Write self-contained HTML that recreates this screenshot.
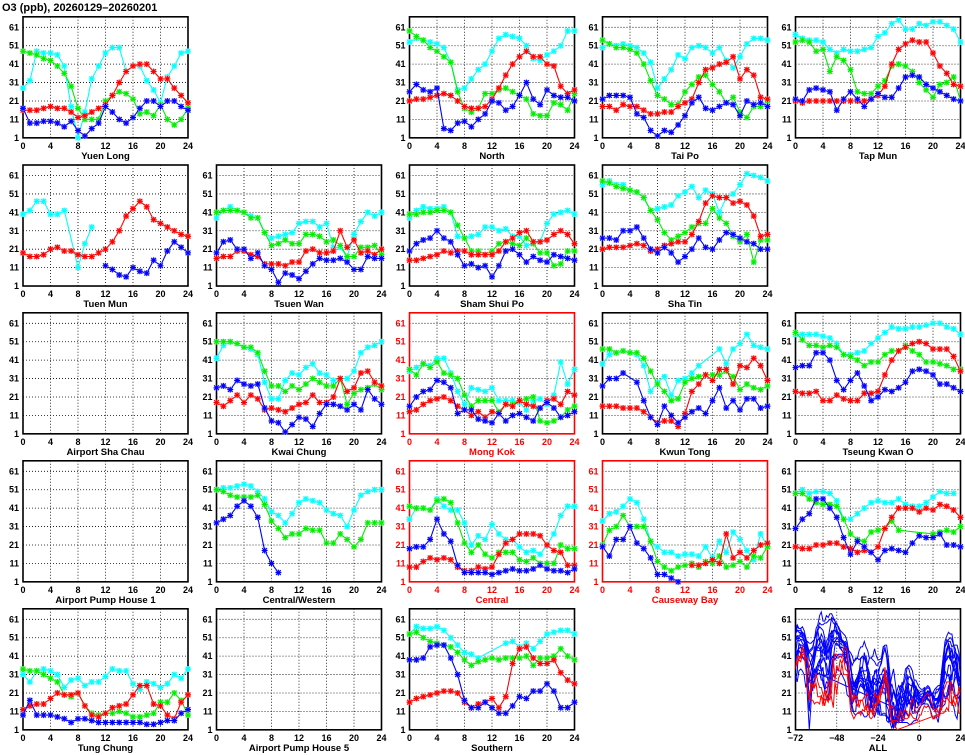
<!DOCTYPE html>
<html><head><meta charset="utf-8"><style>
html,body{margin:0;padding:0;background:#fff;}
svg{display:block;font-family:"Liberation Sans",sans-serif;}
</style></head><body>
<svg id="c" width="965" height="755" viewBox="0 0 965 755">
<text x="2" y="11" font-size="11" font-weight="bold" fill="#000">O3 (ppb), 20260129&#8211;20260201</text>
</svg>
<script>
const hourTicks = [0,4,8,12,16,20,24];
const yTicks = [1,11,21,31,41,51,61];
const allTicks = [-72,-48,-24,0,24];
const N = null;
const ylC=[28,32,48,47,47,46,40,18,1,15,33,40,47,50,50,37,40,40,32,27,20,34,40,47,48];
const ylG=[48,47,46,44,43,40,36,29,17,11,11,11,21,24,26,25,22,14,15,13,19,11,8,11,17];
const ylR=[16,16,16,17,18,17,17,15,12,13,15,17,19,24,31,37,40,41,41,37,33,33,28,24,20];
const ylB=[17,9,9,10,10,9,7,10,5,2,6,9,18,15,11,9,12,17,21,21,18,21,21,18,16];
const noC=[53,55,54,53,52,50,42,27,28,33,38,41,48,55,57,56,55,51,44,43,46,48,51,59,59];
const noG=[59,56,54,50,48,45,42,26,17,15,17,25,25,27,28,26,24,22,14,13,13,20,19,16,25];
const noR=[21,22,22,23,24,25,24,21,18,17,17,18,22,28,35,41,45,48,45,45,41,40,29,25,27];
const noB=[26,30,27,26,28,6,5,9,10,7,11,14,21,20,16,18,24,31,22,19,27,24,23,23,21];
const tpC=[50,52,51,52,51,50,47,42,28,33,38,46,44,50,51,50,47,50,43,39,45,52,55,55,54];
const tpG=[54,52,50,50,49,47,41,32,24,22,19,19,26,30,34,35,30,26,20,23,15,12,18,18,21];
const tpR=[18,18,16,19,18,18,16,14,14,15,15,18,20,22,31,38,39,41,42,45,33,38,35,23,22];
const tpB=[22,24,24,24,23,14,12,5,2,5,4,8,13,20,23,17,16,18,20,19,13,21,19,20,18];
const tmC=[57,55,54,54,53,49,47,49,48,48,49,50,56,58,63,65,60,60,63,62,64,64,62,60,53];
const tmG=[53,54,53,48,49,37,45,43,38,26,25,25,29,32,40,41,40,37,31,27,23,30,31,34,21];
const tmR=[21,20,21,21,21,21,21,21,21,21,21,22,24,29,41,49,52,54,53,53,47,40,36,30,29];
const tmB=[22,21,27,28,27,26,16,22,26,22,18,22,25,23,23,28,34,35,34,30,28,26,24,22,21];
const tuC=[40,42,47,47,40,40,42,N,11,24,33,N,N,N,N,N,N,N,N,N,N,N,N,N,N];
const tuG=[N,N,N,N,N,N,N,N,N,N,N,N,N,N,N,N,N,N,N,N,N,N,N,N,N];
const tuR=[19,17,17,18,21,22,20,20,18,17,17,19,21,25,31,39,43,47,44,37,35,33,31,29,28];
const tuB=[N,N,N,N,N,N,N,N,N,N,N,N,12,10,7,6,11,9,8,15,12,20,25,22,19];
const twC=[38,42,44,42,41,39,38,30,27,28,29,30,35,36,36,33,35,22,22,17,29,36,41,39,41];
const twG=[41,42,42,42,41,38,38,30,23,24,26,24,24,29,29,28,25,26,23,17,17,22,22,23,18];
const twR=[16,17,17,20,20,18,17,13,13,13,12,14,14,20,21,19,19,20,31,22,26,19,20,18,21];
const twB=[19,25,26,21,21,16,19,12,10,3,8,7,5,9,13,16,15,15,16,14,10,10,17,16,16];
const ssC=[38,42,44,43,43,44,41,28,27,28,29,33,33,31,32,28,28,23,24,25,35,40,41,42,40];
const ssG=[40,40,41,41,42,42,41,34,27,20,20,18,20,24,25,24,23,27,24,19,19,12,13,20,20];
const ssR=[15,15,16,17,18,20,19,20,20,18,18,18,18,20,25,27,30,31,25,25,26,29,31,29,24];
const ssB=[20,24,26,27,31,27,25,18,12,13,11,12,6,12,20,21,18,14,17,15,14,18,17,16,15];
const stC=[56,58,56,56,53,52,49,42,43,44,45,50,52,55,49,53,51,41,49,51,56,62,61,60,58];
const stG=[58,57,55,54,53,52,49,42,37,30,26,28,30,33,35,35,43,38,35,28,25,29,14,26,26];
const stR=[21,22,22,22,23,24,23,20,21,23,24,25,25,29,36,46,50,49,49,46,47,45,39,28,29];
const stB=[27,27,26,31,31,33,27,21,19,22,19,14,17,21,27,22,21,26,30,29,27,25,24,21,21];
const kcC=[42,49,51,50,48,47,44,29,20,20,30,34,33,37,39,34,33,30,31,31,35,45,48,49,51];
const kcG=[51,51,51,50,48,48,45,35,27,27,24,27,25,28,31,29,27,27,31,17,23,25,26,28,25];
const kcR=[18,16,19,22,18,22,20,14,15,14,13,15,17,18,22,18,18,21,31,24,26,34,35,29,27];
const kcB=[26,27,25,30,28,27,28,15,8,7,2,6,10,9,5,12,17,17,16,14,17,14,25,20,17];
const mkC=[35,37,39,38,42,42,34,24,17,26,25,24,26,19,19,19,18,14,19,20,17,22,40,28,36];
const mkG=[36,33,39,37,40,34,33,31,22,16,19,19,19,13,17,17,19,20,21,8,7,8,10,14,16];
const mkR=[13,14,17,19,20,21,19,16,14,11,13,10,13,12,17,16,19,17,16,15,19,20,17,24,22];
const mkB=[16,21,24,25,30,29,26,12,14,14,9,8,7,12,8,11,12,10,8,15,18,15,10,11,13];
const ktC=[39,44,45,46,45,44,38,24,29,32,22,30,31,34,38,N,N,47,39,47,50,55,49,48,47];
const ktG=[47,47,45,46,45,45,42,35,28,24,19,20,29,31,32,33,33,33,35,32,25,28,26,25,27];
const ktR=[16,16,16,15,15,15,13,10,7,8,8,5,12,24,28,33,30,36,36,28,38,37,42,38,30];
const ktB=[27,31,31,34,N,29,19,10,6,16,11,7,10,13,15,12,19,26,15,19,14,20,20,15,16];
const tkC=[55,55,55,55,54,53,50,44,44,45,46,50,53,56,59,58,58,59,59,60,61,61,59,58,55];
const tkG=[56,52,49,49,48,49,48,44,43,41,38,40,40,44,46,46,49,46,44,40,40,39,38,36,36];
const tkR=[24,23,23,24,19,19,22,20,19,19,23,23,24,33,41,46,48,50,51,50,47,47,47,43,35];
const tkB=[37,38,38,45,45,41,30,25,30,34,27,19,21,25,24,26,29,35,36,35,33,28,28,26,24];
const cwC=[51,52,52,53,54,53,50,46,39,37,33,38,44,46,45,44,40,38,37,31,40,48,50,51,51];
const cwG=[51,50,48,47,47,47,48,43,34,30,25,27,27,30,29,29,22,22,27,24,20,24,33,33,33];
const cwR=[N,N,N,N,N,N,N,N,N,N,N,N,N,N,N,N,N,N,N,N,N,N,N,N,N];
const cwB=[33,35,37,42,45,42,36,18,11,6,N,N,N,N,N,N,N,N,N,N,N,N,N,N,N];
const ceC=[35,41,41,40,46,42,40,40,33,21,26,24,32,27,24,24,20,17,18,16,21,27,37,42,42];
const ceG=[42,41,41,40,45,46,44,33,22,17,21,16,14,17,17,17,13,12,14,11,11,11,21,19,19];
const ceR=[9,9,12,14,13,14,13,9,7,7,9,8,9,16,22,24,27,27,27,26,21,18,17,10,10];
const ceB=[19,20,20,24,35,27,23,10,6,6,6,6,5,6,7,8,7,7,8,10,8,7,7,6,8];
const cbC=[34,38,39,42,46,44,35,23,20,17,17,15,16,16,15,20,14,23,17,28,24,18,13,27,20];
const cbG=[21,29,31,37,31,31,31,23,12,9,7,9,10,11,9,12,11,15,9,10,12,9,15,14,20];
const cbR=[N,N,N,N,N,N,N,N,N,N,N,N,N,10,10,11,13,11,27,14,17,14,18,21,22];
const cbB=[20,15,24,24,31,22,19,14,5,5,3,1,N,N,N,N,N,N,N,N,N,N,N,N,N];
const eaC=[49,51,49,50,50,49,45,35,35,38,41,44,45,44,44,46,43,42,42,44,47,50,49,49,N];
const eaG=[49,49,46,44,43,43,42,35,27,24,23,28,29,30,34,29,N,N,N,N,27,28,29,28,31];
const eaR=[20,19,19,21,21,22,22,20,19,17,18,17,20,30,36,41,41,41,39,41,40,43,42,40,36];
const eaB=[30,35,38,46,46,41,36,25,16,23,20,17,13,18,19,18,17,22,26,25,25,27,21,21,20];
const tcC=[31,27,33,34,33,31,24,28,29,25,27,27,30,34,33,33,26,23,27,26,24,26,31,29,34];
const tcG=[34,33,33,31,29,27,20,19,21,14,10,9,10,10,11,10,8,8,9,10,16,16,21,17,9];
const tcR=[12,14,15,15,18,21,20,20,21,14,9,8,10,13,14,15,20,25,25,15,14,9,7,16,20];
const tcB=[9,17,9,9,9,8,7,5,7,7,6,5,5,5,5,5,5,5,4,4,5,6,6,10,12];
const soC=[53,57,56,56,57,55,51,47,43,42,40,N,N,N,48,49,46,48,45,49,53,54,55,55,53];
const soG=[53,54,51,49,48,47,46,43,39,36,38,39,40,39,40,40,40,41,36,40,40,41,45,41,39];
const soR=[16,18,19,20,21,22,22,21,16,13,15,16,18,13,19,37,45,46,40,37,37,39,32,28,26];
const soB=[39,39,40,46,47,47,40,31,17,13,13,16,13,10,10,14,19,18,22,22,26,22,13,13,16];
const hours=[0,1,2,3,4,5,6,7,8,9,10,11,12,13,14,15,16,17,18,19,20,21,22,23,24];

const colLeft=[23,216.5,409.5,602.5,795.5];
const rowTop61=[27.3,175.5,323.3,471.3,619.3];
const PW=165, PXU=1.842;
const colors={c:'#00ffff',g:'#00ee00',r:'#ff0000',b:'#0000ff'};
const halos={c:'#b8ffff',g:'#b8ffb8',r:'#ffb8b8',b:'#b8b8ff'};
const svg=document.getElementById('c');
const NS='http://www.w3.org/2000/svg';
function mk(tag,attrs,parent){const e=document.createElementNS(NS,tag);for(const k in attrs)e.setAttribute(k,attrs[k]);(parent||svg).appendChild(e);return e;}

const panels=[
 {name:'Yuen Long',key:'yuen-long',col:0,row:0,d:{c:ylC,g:ylG,r:ylR,b:ylB}},
 {name:'North',key:'north',col:2,row:0,d:{c:noC,g:noG,r:noR,b:noB}},
 {name:'Tai Po',key:'tai-po',col:3,row:0,d:{c:tpC,g:tpG,r:tpR,b:tpB}},
 {name:'Tap Mun',key:'tap-mun',col:4,row:0,d:{c:tmC,g:tmG,r:tmR,b:tmB}},
 {name:'Tuen Mun',key:'tuen-mun',col:0,row:1,d:{c:tuC,g:tuG,r:tuR,b:tuB}},
 {name:'Tsuen Wan',key:'tsuen-wan',col:1,row:1,d:{c:twC,g:twG,r:twR,b:twB}},
 {name:'Sham Shui Po',key:'sham-shui-po',col:2,row:1,d:{c:ssC,g:ssG,r:ssR,b:ssB}},
 {name:'Sha Tin',key:'sha-tin',col:3,row:1,d:{c:stC,g:stG,r:stR,b:stB}},
 {name:'Airport Sha Chau',key:'airport-sha-chau',col:0,row:2,d:null},
 {name:'Kwai Chung',key:'kwai-chung',col:1,row:2,d:{c:kcC,g:kcG,r:kcR,b:kcB}},
 {name:'Mong Kok',key:'mong-kok',col:2,row:2,road:true,d:{c:mkC,g:mkG,r:mkR,b:mkB}},
 {name:'Kwun Tong',key:'kwun-tong',col:3,row:2,d:{c:ktC,g:ktG,r:ktR,b:ktB}},
 {name:'Tseung Kwan O',key:'tseung-kwan-o',col:4,row:2,d:{c:tkC,g:tkG,r:tkR,b:tkB}},
 {name:'Airport Pump House 1',key:'airport-pump-house-1',col:0,row:3,d:null},
 {name:'Central/Western',key:'central-western',col:1,row:3,d:{c:cwC,g:cwG,r:cwR,b:cwB}},
 {name:'Central',key:'central',col:2,row:3,road:true,d:{c:ceC,g:ceG,r:ceR,b:ceB}},
 {name:'Causeway Bay',key:'causeway-bay',col:3,row:3,road:true,d:{c:cbC,g:cbG,r:cbR,b:cbB}},
 {name:'Eastern',key:'eastern',col:4,row:3,d:{c:eaC,g:eaG,r:eaR,b:eaB}},
 {name:'Tung Chung',key:'tung-chung',col:0,row:4,d:{c:tcC,g:tcG,r:tcR,b:tcB}},
 {name:'Airport Pump House 5',key:'airport-pump-house-5',col:1,row:4,d:null},
 {name:'Southern',key:'southern',col:2,row:4,d:{c:soC,g:soG,r:soR,b:soB}}
];

function frame(L,T61,name,key,road,xticks,xmin,xmax){
  const g=mk('g',{});
  
  
  const top=T61-10.5, bot=T61+60*PXU, fc=road?'#ff0000':'#000';
  const ys=v=>T61+(61-v)*PXU, xs=h=>L+(h-xmin)/(xmax-xmin)*PW;
  for(const t of yTicks){
    const yy=ys(t);
    if(t>1){const gl=mk('line',{x1:L,x2:L+PW,y1:yy,y2:yy,stroke:'#000','stroke-width':0.8,'stroke-dasharray':'1,2'},g);
    }
    const tl=mk('text',{x:L-4,y:yy+3,'text-anchor':'end','font-size':9,'font-weight':'bold',fill:fc},g);
    tl.textContent=t;
  }
  for(const t of xticks){
    const xx=xs(t);
    if(t>xmin&&t<xmax){const gl=mk('line',{x1:xx,x2:xx,y1:top,y2:bot,stroke:'#000','stroke-width':0.8,'stroke-dasharray':'1,2'},g);
    }
    const tl=mk('text',{x:xx,y:bot+11,'text-anchor':'middle','font-size':9,'font-weight':'bold',fill:fc},g);
    tl.textContent=(t<0?'\u2212'+(-t):t);
  }
  const r=mk('rect',{x:L,y:top,width:PW,height:bot-top,fill:'none',stroke:fc,'stroke-width':1.6},g);
  
  const lb=mk('text',{x:L+PW/2,y:bot+21,'text-anchor':'middle','font-size':9.5,'font-weight':'bold',fill:fc},g);
  lb.textContent=name;
  return {g,xs,ys,top,bot};
}

function star(g,x,y,k){
  const s=mk('g',{},g);
  
  
  mk('rect',{x:x-2.5,y:y-2.5,width:5,height:5,fill:halos[k]},s);
  const p=`M${x-3},${y}H${x+3}M${x},${y-3}V${y+3}M${x-2.4},${y-2.4}L${x+2.4},${y+2.4}M${x-2.4},${y+2.4}L${x+2.4},${y-2.4}`;
  mk('path',{d:p,stroke:colors[k],'stroke-width':1.1,fill:'none'},s);
}

for(const p of panels){
  const f=frame(colLeft[p.col],rowTop61[p.row],p.name,p.key,p.road,hourTicks,0,24);
  if(!p.d)continue;
  for(const k of ['c','g','r','b']){
    const arr=p.d[k];let pts=[];
    hours.forEach((h,i)=>{if(arr[i]!==null)pts.push([f.xs(h),f.ys(arr[i])]);});
    if(pts.length>1){
      const pl=mk('polyline',{points:pts.map(q=>q[0].toFixed(1)+','+q[1].toFixed(1)).join(' '),fill:'none',stroke:colors[k],'stroke-width':1.1},f.g);
      
      
    }
    pts.forEach(q=>star(f.g,q[0],q[1],k));
  }
}

// ALL panel
(function(){
  const f=frame(colLeft[4],rowTop61[4],'ALL','all',false,allTicks,-72,24);
  const clip=mk('clipPath',{id:'allclip'});
  mk('rect',{x:colLeft[4],y:f.top,width:PW,height:f.bot-f.top},clip);
  const lg=mk('g',{'clip-path':'url(#allclip)'},f.g);
  
  
  const order=[['c',-72],['g',-48],['b',-24],['r',0]];
  const sorted=panels.filter(p=>p.d).sort((a,b)=>(a.road?1:0)-(b.road?1:0));
  for(const p of sorted){
    let pts=[];
    for(const [k,off] of order){
      hours.forEach((h,i)=>{const v=p.d[k][i];if(v!==null)pts.push([f.xs(h+off),f.ys(v)]);});
    }
    const pl=mk('polyline',{points:pts.map(q=>q[0].toFixed(1)+','+q[1].toFixed(1)).join(' '),fill:'none',stroke:p.road?'#ff0000':'#0000ff','stroke-width':1},lg);
    
    
  }
})();
</script>
</body></html>
